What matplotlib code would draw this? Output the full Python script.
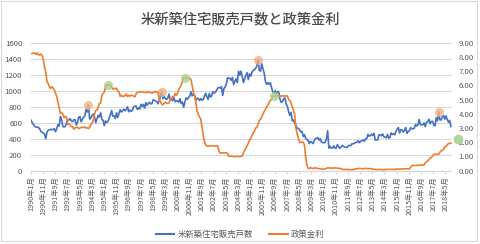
import matplotlib
matplotlib.use("Agg")
import matplotlib.pyplot as plt
from matplotlib.patches import Rectangle
from matplotlib.lines import Line2D
import numpy as np

plt.rcParams['font.family'] = ['Noto Sans CJK JP', 'DejaVu Sans']

title = "米新築住宅販売戸数と政策金利"
series_names = ["米新築住宅販売戸数", "政策金利"]
start_year, start_month = 1990, 1

# US new home sales (thousands, SAAR), monthly 1990-01 .. 2018-09
home_sales = [
    630, 598, 575, 556, 544, 545, 540, 525, 490, 480, 470, 455,
    401, 482, 507, 508, 517, 516, 511, 526, 487, 524, 575, 558,
    676, 639, 554, 546, 554, 596, 627, 636, 650, 621, 614, 639,
    636, 571, 603, 669, 675, 611, 644, 669, 682, 769, 734, 820,
    645, 661, 693, 711, 668, 600, 649, 692, 672, 724, 642, 629,
    563, 622, 605, 615, 663, 697, 752, 682, 686, 652, 723, 664,
    716, 762, 733, 750, 768, 749, 768, 798, 737, 759, 742, 754,
    796, 805, 807, 767, 785, 770, 829, 804, 829, 782, 850, 818,
    840, 855, 835, 838, 886, 882, 872, 864, 836, 881, 936, 990,
    899, 931, 902, 891, 907, 958, 883, 893, 876, 916, 862, 873,
    873, 856, 900, 841, 857, 793, 858, 911, 891, 913, 932, 986,
    936, 956, 938, 876, 908, 899, 878, 901, 881, 888, 927, 968,
    925, 892, 965, 920, 936, 987, 970, 982, 1003, 1035, 1040, 1032,
    1051, 941, 1024, 1050, 1083, 1162, 1154, 1155, 1129, 1165, 1076, 1118,
    1148, 1103, 1241, 1194, 1244, 1178, 1101, 1147, 1192, 1226, 1139, 1210,
    1182, 1230, 1255, 1262, 1281, 1309, 1389, 1255, 1244, 1336, 1272, 1220,
    1120, 1080, 1100, 1080, 1100, 1040, 990, 960, 1000, 960, 990, 980,
    891, 853, 866, 899, 908, 833, 807, 740, 691, 728, 625, 633,
    596, 567, 528, 530, 512, 485, 490, 427, 451, 403, 389, 376,
    338, 366, 356, 339, 372, 403, 404, 415, 381, 400, 355, 353,
    347, 356, 396, 500, 281, 305, 282, 283, 310, 283, 280, 327,
    301, 278, 297, 317, 303, 295, 290, 292, 314, 315, 312, 338,
    336, 343, 353, 356, 374, 349, 368, 375, 384, 368, 397, 398,
    455, 431, 441, 456, 439, 466, 384, 385, 385, 447, 448, 436,
    459, 428, 418, 412, 454, 407, 414, 472, 454, 462, 448, 491,
    518, 539, 471, 514, 509, 482, 508, 540, 465, 493, 499, 538,
    524, 523, 531, 578, 559, 575, 640, 574, 574, 573, 598, 550,
    604, 611, 643, 586, 614, 617, 570, 560, 662, 624, 733, 636,
    634, 671, 689, 644, 685, 640, 607, 629, 553,
]

# Effective federal funds rate (%), monthly 1990-01 .. 2018-09
policy_rate = [
    8.23, 8.24, 8.28, 8.26, 8.18, 8.29, 8.15, 8.13, 8.20, 8.11, 7.81, 7.31,
    6.91, 6.25, 6.12, 5.91, 5.78, 5.90, 5.82, 5.66, 5.45, 5.21, 4.81, 4.43,
    4.03, 4.06, 3.98, 3.73, 3.82, 3.76, 3.25, 3.30, 3.22, 3.10, 3.09, 2.92,
    3.02, 3.03, 3.07, 2.96, 3.00, 3.04, 3.06, 3.03, 3.09, 2.99, 3.02, 2.96,
    3.05, 3.25, 3.34, 3.56, 4.01, 4.25, 4.26, 4.47, 4.73, 4.76, 5.29, 5.45,
    5.53, 5.92, 5.98, 6.05, 6.01, 6.00, 5.85, 5.74, 5.80, 5.76, 5.80, 5.60,
    5.56, 5.22, 5.31, 5.22, 5.24, 5.27, 5.40, 5.22, 5.30, 5.24, 5.31, 5.29,
    5.25, 5.19, 5.39, 5.51, 5.50, 5.56, 5.52, 5.54, 5.54, 5.50, 5.52, 5.50,
    5.56, 5.51, 5.49, 5.45, 5.49, 5.56, 5.54, 5.55, 5.51, 5.07, 4.83, 4.68,
    4.63, 4.76, 4.81, 4.74, 4.74, 4.76, 4.99, 5.07, 5.22, 5.20, 5.42, 5.30,
    5.45, 5.73, 5.85, 6.02, 6.27, 6.53, 6.54, 6.50, 6.52, 6.51, 6.51, 6.40,
    5.98, 5.49, 5.31, 4.80, 4.21, 3.97, 3.77, 3.65, 3.07, 2.49, 2.09, 1.82,
    1.73, 1.74, 1.73, 1.75, 1.75, 1.75, 1.73, 1.74, 1.75, 1.75, 1.34, 1.24,
    1.24, 1.26, 1.25, 1.26, 1.26, 1.22, 1.01, 1.03, 1.01, 1.01, 1.00, 0.98,
    1.00, 1.01, 1.00, 1.00, 1.00, 1.03, 1.26, 1.43, 1.61, 1.76, 1.93, 2.16,
    2.28, 2.50, 2.63, 2.79, 3.00, 3.04, 3.26, 3.50, 3.62, 3.78, 4.00, 4.16,
    4.29, 4.49, 4.59, 4.79, 4.94, 4.99, 5.24, 5.25, 5.25, 5.25, 5.25, 5.24,
    5.25, 5.26, 5.26, 5.25, 5.25, 5.25, 5.26, 5.02, 4.94, 4.76, 4.49, 4.24,
    3.94, 2.98, 2.61, 2.28, 1.98, 2.00, 2.01, 2.00, 1.81, 0.97, 0.39, 0.16,
    0.15, 0.22, 0.18, 0.15, 0.18, 0.21, 0.16, 0.16, 0.15, 0.12, 0.12, 0.12,
    0.11, 0.13, 0.16, 0.20, 0.20, 0.18, 0.18, 0.19, 0.19, 0.19, 0.19, 0.18,
    0.17, 0.16, 0.14, 0.10, 0.09, 0.09, 0.07, 0.10, 0.08, 0.07, 0.08, 0.07,
    0.08, 0.10, 0.13, 0.14, 0.16, 0.16, 0.16, 0.13, 0.14, 0.16, 0.16, 0.16,
    0.14, 0.15, 0.14, 0.15, 0.11, 0.09, 0.09, 0.08, 0.08, 0.09, 0.08, 0.09,
    0.07, 0.07, 0.08, 0.09, 0.09, 0.10, 0.09, 0.09, 0.09, 0.09, 0.09, 0.12,
    0.11, 0.11, 0.11, 0.12, 0.12, 0.13, 0.13, 0.14, 0.14, 0.12, 0.12, 0.24,
    0.34, 0.38, 0.36, 0.37, 0.37, 0.38, 0.39, 0.40, 0.40, 0.40, 0.41, 0.54,
    0.65, 0.66, 0.79, 0.90, 0.91, 1.04, 1.15, 1.16, 1.15, 1.15, 1.16, 1.30,
    1.41, 1.42, 1.51, 1.69, 1.70, 1.82, 1.91, 1.91, 1.95,
]

# highlighted points (month index, value)
sales_peaks_idx = [47, 107, 186, 334]
rate_peaks_idx = [63, 126, 199]
rate_outlook_idx = [350]
rate_outlook_val = [2.25]

n = len(home_sales)
labels = []
for i in range(n):
    y = start_year + (start_month - 1 + i) // 12
    m = (start_month - 1 + i) % 12 + 1
    labels.append(f"{y}年{m}月")

blue = "#4472C4"
orange = "#ED7D31"
txt = "#595959"
grid = "#D9D9D9"

fig = plt.figure(figsize=(4.8, 2.44), dpi=100)
W, H = 480, 244
ax = fig.add_axes([30.5 / W, 1 - 170.7 / H, (451.5 - 30.5) / W, (170.7 - 42.7) / H])
ax2 = ax.twinx()

x = np.arange(n)
ax.plot(x, home_sales, color=blue, lw=1.2, solid_joinstyle='round')
ax2.plot(x, policy_rate, color=orange, lw=1.2, solid_joinstyle='round')

ax.plot(sales_peaks_idx, [home_sales[i] for i in sales_peaks_idx], 'o',
        ms=6.5, color="#F4B183", alpha=0.8, mec='none', zorder=5)
ax2.plot(rate_peaks_idx, [policy_rate[i] for i in rate_peaks_idx], 'o',
         ms=6.5, color="#A9D18E", alpha=0.8, mec='none', zorder=5)
ax2.plot(rate_outlook_idx, rate_outlook_val, 'o', ms=7, color="#A9D18E",
         alpha=0.9, mec='none', zorder=5, clip_on=False)

ax.set_xlim(-0.5, n - 0.5)
ax.set_ylim(0, 1600)
ax2.set_ylim(0, 9)
ax.set_yticks(np.arange(0, 1601, 200))
ax2.set_yticks(np.arange(0, 9.01, 1))
ax2.set_yticklabels([f"{v:.2f}" for v in np.arange(0, 9.01, 1)])
ax.yaxis.grid(True, color=grid, lw=0.8)
ax.set_axisbelow(True)

tick_idx = list(range(0, n, 10))
ax.set_xticks(tick_idx)
ax.set_xticklabels([labels[i] for i in tick_idx], rotation=90, fontsize=5.2,
                   color=txt, va='top', ha='center')
ax.set_xticks(np.arange(-0.5, n, 10), minor=True)
ax.tick_params(axis='x', which='major', length=0, pad=4)
ax.tick_params(axis='x', which='minor', length=2.5, color=grid, width=0.8)

ax.tick_params(axis='y', length=0, pad=6, labelsize=5.6, labelcolor=txt)
ax2.tick_params(axis='y', length=0, pad=5, labelsize=5.6, labelcolor=txt)

for a in (ax, ax2):
    for s in ('left', 'right', 'top'):
        a.spines[s].set_visible(False)
    a.spines['bottom'].set_color(grid)
    a.spines['bottom'].set_linewidth(0.8)

fig.text(0.5, 1 - 19 / H, title, ha='center', va='center', fontsize=10.3,
         color="#4A4A4A", fontweight='medium')

handles = [Line2D([], [], color=blue, lw=1.5), Line2D([], [], color=orange, lw=1.5)]
fig.legend(handles, series_names, loc='center', bbox_to_anchor=(0.5, 1 - 234 / H),
           ncol=2, frameon=False, fontsize=6, labelcolor=txt, handlelength=2.2,
           handletextpad=0.4, columnspacing=2.0)

fig.patches.append(Rectangle((1 / W, 1 - 241 / H), 476 / W, 240 / H,
                             transform=fig.transFigure, fill=False,
                             edgecolor=grid, lw=0.8))

fig.savefig("out.png", dpi=100)
